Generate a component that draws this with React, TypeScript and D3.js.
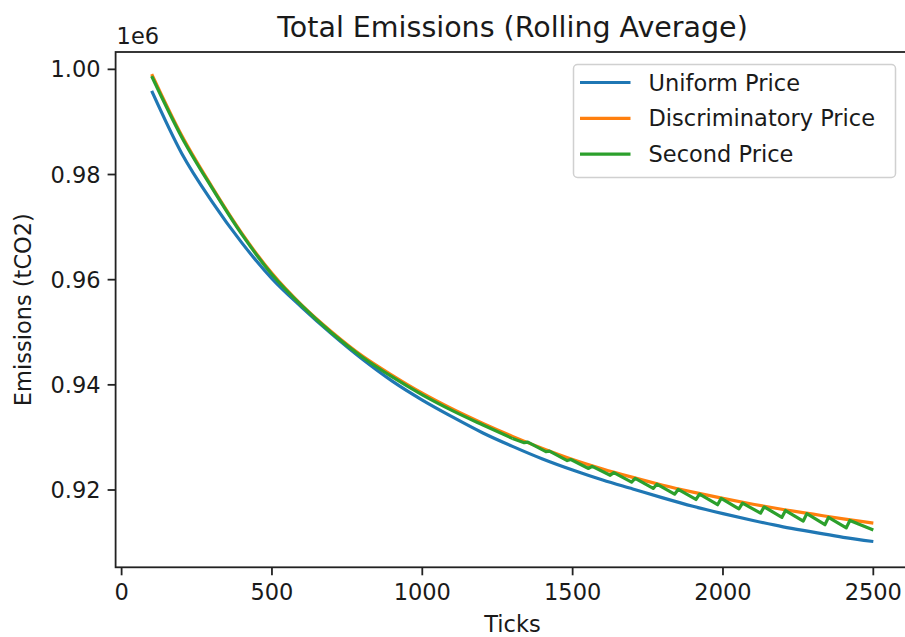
import React from "react";
import * as d3 from "d3";

const W = 905;
const H = 637;

const ticks = [100, 200, 300, 400, 500, 600, 700, 800, 900, 1000, 1100, 1200, 1300, 1400, 1500, 1600, 1700, 1800, 1900, 2000, 2100, 2200, 2300, 2400, 2500];

const uniformPrice = [995900, 984000, 974900, 967000, 960200, 954700, 949600, 944900, 940700, 937100, 933900, 930900, 928300, 925900, 923800, 921900, 920200, 918500, 916900, 915500, 914200, 913000, 912000, 911000, 910200];

const discriminatoryPrice = [999100, 987400, 977700, 968800, 961200, 955100, 950000, 945500, 941800, 938400, 935400, 932700, 930200, 927900, 925800, 924000, 922400, 920900, 919600, 918400, 917300, 916300, 915400, 914500, 913700];

const secondPriceTicks = [100, 200, 300, 400, 500, 600, 700, 800, 900, 1000, 1100, 1200, 1300, 1339, 1351, 1411, 1423, 1482, 1494, 1553, 1565, 1625, 1637, 1696, 1708, 1768, 1780, 1839, 1851, 1910, 1922, 1982, 1994, 2053, 2065, 2125, 2137, 2196, 2208, 2267, 2279, 2339, 2351, 2410, 2422, 2500];
const secondPrice = [998700, 987100, 977500, 968600, 961000, 955000, 949800, 945300, 941500, 938100, 935100, 932400, 929800, 929000, 929100, 927300, 927400, 925600, 925800, 924100, 924500, 922800, 923300, 921500, 922200, 920300, 921100, 919200, 920100, 918200, 919200, 917200, 918400, 916400, 917500, 915600, 916800, 914800, 916100, 914100, 915500, 913400, 914800, 912800, 914200, 912400];

const xTickValues = [0, 500, 1000, 1500, 2000, 2500];
const yTickValues = [920000, 940000, 960000, 980000, 1000000];
const seriesNames = ["Uniform Price", "Discriminatory Price", "Second Price"];
const colors = ["#1f77b4", "#ff7f0e", "#2ca02c"];

const left = 115.6, right = 909.4, top = 52, bottom = 567.3;
const FONT = "DejaVu Sans, sans-serif";
const TXT = "#1a1a1a";

export default function App() {
  const x = d3.scaleLinear().domain([-20, 2620]).range([left, right]);
  const y = d3.scaleLinear().domain([905300, 1003300]).range([bottom, top]);

  const smooth = d3
    .line<[number, number]>()
    .x((d) => x(d[0]))
    .y((d) => y(d[1]))
    .curve(d3.curveMonotoneX);
  const straight = d3
    .line<[number, number]>()
    .x((d) => x(d[0]))
    .y((d) => y(d[1]))
    .curve(d3.curveLinear);

  const blue = ticks.map((t, i) => [t, uniformPrice[i]] as [number, number]);
  const orange = ticks.map((t, i) => [t, discriminatoryPrice[i]] as [number, number]);
  const green = secondPriceTicks.map((t, i) => [t, secondPrice[i]] as [number, number]);
  const splitIdx = secondPriceTicks.indexOf(1300);
  const greenSmooth = green.slice(0, splitIdx + 1);
  const greenSaw = green.slice(splitIdx);

  const legX = 573.5, legY = 64.5, legW = 322, legH = 113;
  const lw = 3.2;

  return (
    <svg
      width={W}
      height={H}
      style={{ position: "absolute", left: 0, top: 0, background: "#fff" }}
      fontFamily={FONT}
    >
      <rect x={0} y={0} width={W} height={H} fill="#fff" />
      <path d={smooth(blue) || ""} fill="none" stroke={colors[0]} strokeWidth={lw} strokeLinejoin="round" />
      <path d={smooth(orange) || ""} fill="none" stroke={colors[1]} strokeWidth={lw} strokeLinejoin="round" />
      <path d={smooth(greenSmooth) || ""} fill="none" stroke={colors[2]} strokeWidth={lw} strokeLinejoin="round" />
      <path d={straight(greenSaw) || ""} fill="none" stroke={colors[2]} strokeWidth={lw} strokeLinejoin="round" />
      {/* spines */}
      <rect x={left} y={top} width={right - left} height={bottom - top} fill="none" stroke="#222" strokeWidth={1.8} />
      {/* x ticks */}
      {xTickValues.map((v) => (
        <g key={v}>
          <line x1={x(v)} x2={x(v)} y1={bottom} y2={bottom + 8} stroke="#222" strokeWidth={1.8} />
          <text x={x(v)} y={bottom + 33} textAnchor="middle" fontSize={22.5} fill={TXT}>
            {v}
          </text>
        </g>
      ))}
      {/* y ticks */}
      {yTickValues.map((v) => (
        <g key={v}>
          <line x1={left - 8} x2={left} y1={y(v)} y2={y(v)} stroke="#222" strokeWidth={1.8} />
          <text x={left - 15} y={y(v) + 8} textAnchor="end" fontSize={22.5} fill={TXT}>
            {(v / 1e6).toFixed(2)}
          </text>
        </g>
      ))}
      <text x={left + 1} y={44} fontSize={22.5} fill={TXT}>1e6</text>
      {/* title */}
      <text x={(left + right) / 2} y={37} textAnchor="middle" fontSize={28.5} fill={TXT}>
        Total Emissions (Rolling Average)
      </text>
      {/* axis labels */}
      <text x={(left + right) / 2} y={632} textAnchor="middle" fontSize={22.5} fill={TXT}>
        Ticks
      </text>
      <text
        transform={`translate(31, ${(top + bottom) / 2}) rotate(-90)`}
        textAnchor="middle"
        fontSize={22.5}
        fill={TXT}
      >
        Emissions (tCO2)
      </text>
      {/* legend */}
      <rect x={legX} y={legY} width={legW} height={legH} rx={4} ry={4} fill="#fff" fillOpacity={0.8} stroke="#d0d0d0" strokeWidth={1.5} />
      {seriesNames.map((n, i) => {
        const ry = 82.5 + i * 35.8;
        return (
          <g key={n}>
            <line x1={580} x2={630.5} y1={ry} y2={ry} stroke={colors[i]} strokeWidth={lw} />
            <text x={648.5} y={ry + 8} fontSize={22.5} fill={TXT}>
              {n}
            </text>
          </g>
        );
      })}
    </svg>
  );
}
